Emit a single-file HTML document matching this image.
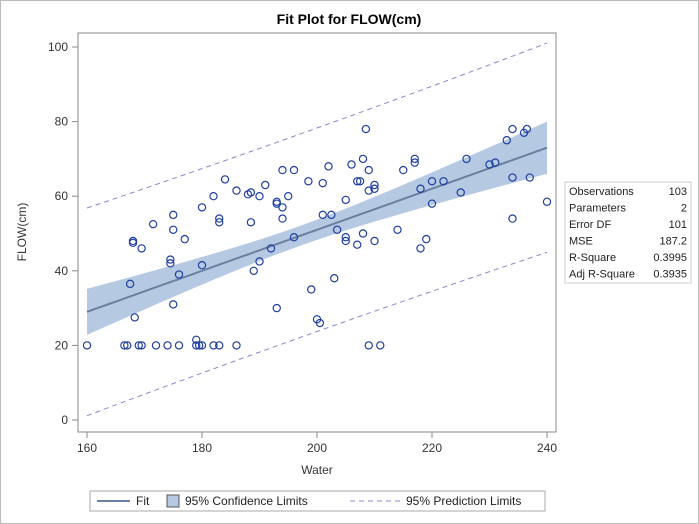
<!DOCTYPE html>
<html><head><meta charset="utf-8"><style>
body{margin:0;background:#fff;}
svg{display:block;font-family:"Liberation Sans",sans-serif;}
</style></head><body>
<svg id="c" width="699" height="524"></svg>
<script>
const xs=[160,166.5,167,169,169.5,172,174,176,179,180,182,183,186,209,211,167.5,168,168,168.3,169.5,171.5,174.5,174.5,175,175,175,176,177,179,179.5,180,180,182,183,183,184,186,188,188.5,188.5,189,190,190,191,192,193,193,193,194,194,194,195,196,196,198.5,199,200,200.5,201,201,202,202.5,203,203.5,205,205,205,206,207,207,207.5,208,208,208.5,209,209,210,210,210,214,215,217,217,218,218,219,220,220,222,225,226,230,231,233,234,234,234,236,236.5,237,240];
const ys=[20,20,20,20,20,20,20,20,20,20,20,20,20,20,20,36.5,48,47.5,27.5,46,52.5,43,42,55,51,31,39,48.5,21.5,20,57,41.5,60,54,53,64.5,61.5,60.5,53,61,40,42.5,60,63,46,58.5,58,30,67,57,54,60,49,67,64,35,27,26,55,63.5,68,55,38,51,59,49,48,68.5,64,47,64,70,50,78,61.5,67,63,62,48,51,67,70,69,46,62,48.5,58,64,64,61,70,68.5,69,75,78,65,54,77,78,65,58.5];
const xTicks=[160,180,200,220,240];
const yTicks=[0,20,40,60,80,100];
const intercept=-59.0, slope=0.55, mse=187.2, nObs=103, xbar=197, sxx=32550, tval=1.984;
const statLabels=["Observations","Parameters","Error DF","MSE","R-Square","Adj R-Square"];
const statValues=["103","2","101","187.2","0.3995","0.3935"];

const NS="http://www.w3.org/2000/svg";
const svg=document.getElementById('c');
function mk(t,a,p){const e=document.createElementNS(NS,t);for(const k in a)e.setAttribute(k,a[k]);(p||svg).appendChild(e);return e;}
const X=v=>87+(v-160)*5.75, Y=v=>420-v*3.73;
mk('rect',{x:0.5,y:0.5,width:698,height:523,fill:'none',stroke:'#bbb'});
let t=mk('text',{x:349,y:24,'text-anchor':'middle','font-size':14,'font-weight':'bold',fill:'#000'});t.textContent='Fit Plot for FLOW(cm)';


const fit=x=>intercept+slope*x;
const se=(x,k)=>tval*Math.sqrt(mse*(k+1/nObs+(x-xbar)**2/sxx));
let up=[],lo=[],pu=[],pl=[],fl=[];
for(let x=160;x<=240;x+=2){up.push(X(x)+','+Y(fit(x)+se(x,0)));lo.unshift(X(x)+','+Y(fit(x)-se(x,0)));pu.push(X(x)+','+Y(fit(x)+se(x,1)));pl.push(X(x)+','+Y(fit(x)-se(x,1)));fl.push(X(x)+','+Y(fit(x)));}
let b=mk('polygon',{points:up.concat(lo).join(' '),fill:'#b5c9e3'});


let l=mk('polyline',{points:fl.join(' '),fill:'none',stroke:'#6b7fa0','stroke-width':2});


[pu,pl].forEach((p,i)=>{let e=mk('polyline',{points:p.join(' '),fill:'none',stroke:'#8888cc','stroke-width':1,'stroke-dasharray':'5,4'});

});
for(let i=0;i<xs.length;i++){let c=mk('circle',{cx:X(xs[i]),cy:Y(ys[i]),r:3.6,fill:'none',stroke:'#1f3fa0','stroke-width':1.2});

}
let fr=mk('rect',{x:78,y:33,width:478,height:399,fill:'none',stroke:'#888'});


xTicks.forEach(v=>{mk('line',{x1:X(v),x2:X(v),y1:432,y2:438,stroke:'#888'});let e=mk('text',{x:X(v),y:452,'text-anchor':'middle','font-size':12,fill:'#333'});e.textContent=v;

});
yTicks.forEach(v=>{mk('line',{x1:72,x2:78,y1:Y(v),y2:Y(v),stroke:'#888'});let e=mk('text',{x:68,y:Y(v)+4,'text-anchor':'end','font-size':12,fill:'#333'});e.textContent=v;

});
t=mk('text',{x:317,y:474,'text-anchor':'middle','font-size':12,fill:'#333'});t.textContent='Water';


t=mk('text',{x:26,y:232,'text-anchor':'middle','font-size':12,fill:'#333',transform:'rotate(-90 26 232)'});t.textContent='FLOW(cm)';


let g=mk('g',{});


mk('rect',{x:565,y:182,width:126,height:101,fill:'#fff',stroke:'#ccc'},g);
statLabels.forEach((s,i)=>{let a=mk('text',{x:569,y:195+i*16.5,'font-size':11,fill:'#222'},g);a.textContent=s;
let v=mk('text',{x:687,y:195+i*16.5,'text-anchor':'end','font-size':11,fill:'#222'},g);v.textContent=statValues[i];});
let lg=mk('g',{});


mk('rect',{x:90,y:491,width:455,height:20,fill:'#fff',stroke:'#aaa'},lg);
mk('line',{x1:97,x2:130,y1:501,y2:501,stroke:'#6b7fa0','stroke-width':2},lg);
let a=mk('text',{x:136,y:505,'font-size':12,fill:'#222'},lg);a.textContent='Fit';
mk('rect',{x:167,y:495,width:12,height:12,fill:'#b5c9e3',stroke:'#555'},lg);
a=mk('text',{x:185,y:505,'font-size':12,fill:'#222'},lg);a.textContent='95% Confidence Limits';
mk('line',{x1:350,x2:400,y1:501,y2:501,stroke:'#8888cc','stroke-dasharray':'5,4'},lg);
a=mk('text',{x:406,y:505,'font-size':12,fill:'#222'},lg);a.textContent='95% Prediction Limits';
</script>
</body></html>
